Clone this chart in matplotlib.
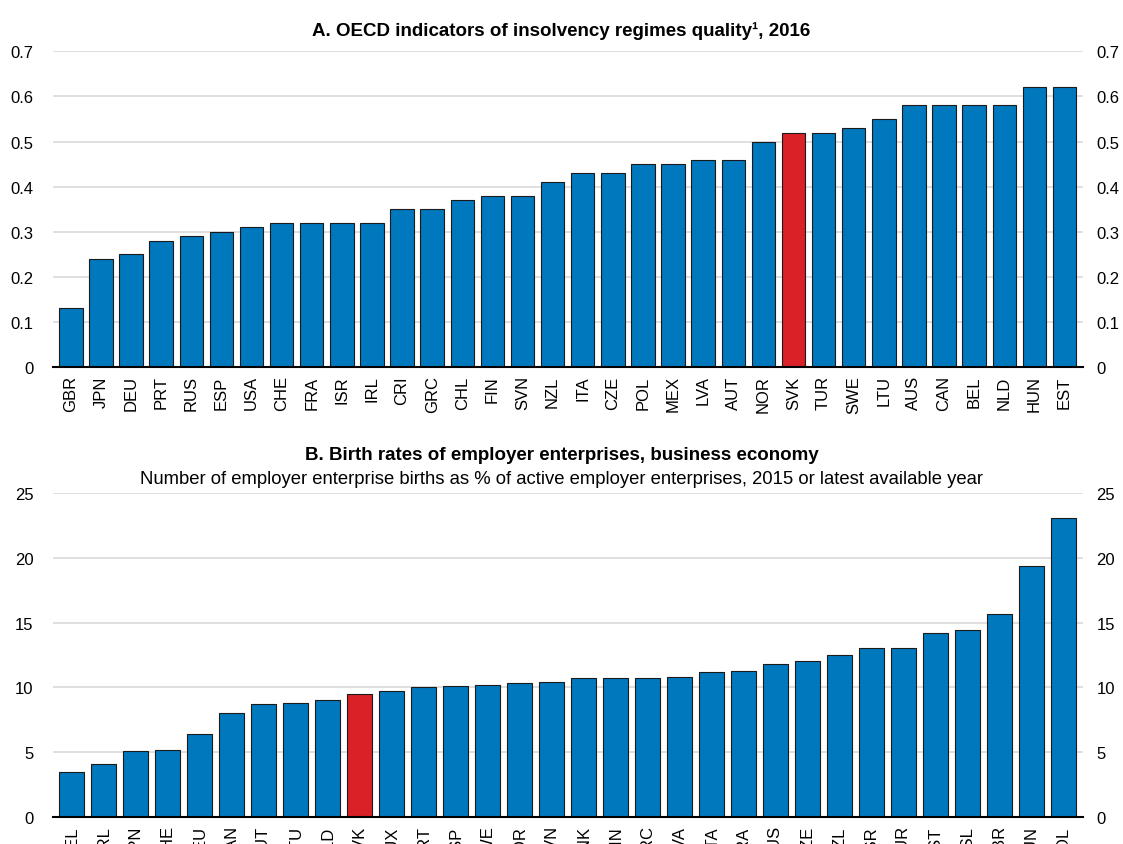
import matplotlib.pyplot as plt

# panel A data
countries_a = ['GBR', 'JPN', 'DEU', 'PRT', 'RUS', 'ESP', 'USA', 'CHE', 'FRA', 'ISR', 'IRL',
               'CRI', 'GRC', 'CHL', 'FIN', 'SVN', 'NZL', 'ITA', 'CZE', 'POL', 'MEX', 'LVA',
               'AUT', 'NOR', 'SVK', 'TUR', 'SWE', 'LTU', 'AUS', 'CAN', 'BEL', 'NLD', 'HUN', 'EST']
values_a = [0.13, 0.24, 0.25, 0.28, 0.29, 0.30, 0.31, 0.32, 0.32, 0.32, 0.32,
            0.35, 0.35, 0.37, 0.38, 0.38, 0.41, 0.43, 0.43, 0.45, 0.45, 0.46,
            0.46, 0.50, 0.52, 0.52, 0.53, 0.55, 0.58, 0.58, 0.58, 0.58, 0.62, 0.62]
ticks_a = [0, 0.1, 0.2, 0.3, 0.4, 0.5, 0.6, 0.7]

# panel B data
countries_b = ['BEL', 'IRL', 'JPN', 'CHE', 'DEU', 'CAN', 'AUT', 'LTU', 'NLD', 'SVK', 'LUX',
               'PRT', 'ESP', 'SWE', 'NOR', 'SVN', 'DNK', 'FIN', 'GRC', 'LVA', 'ITA', 'FRA',
               'AUS', 'CZE', 'NZL', 'ISR', 'TUR', 'EST', 'ISL', 'GBR', 'HUN', 'POL']
values_b = [3.5, 4.1, 5.1, 5.2, 6.4, 8.0, 8.7, 8.8, 9.0, 9.5, 9.7,
            10.0, 10.1, 10.2, 10.3, 10.4, 10.7, 10.7, 10.7, 10.8, 11.2, 11.3,
            11.8, 12.0, 12.5, 13.0, 13.0, 14.2, 14.4, 15.7, 19.4, 23.1]
ticks_b = [0, 5, 10, 15, 20, 25]

highlight = 'SVK'
BLUE = '#0078be'
RED = '#da2128'

plt.rcParams['font.family'] = ['Liberation Sans', 'DejaVu Sans']


def panel(ax, cats, vals, ticks, tick_fmt):
    colors = [RED if c == highlight else BLUE for c in cats]
    x = range(len(cats))
    ax.bar(x, vals, width=0.78, color=colors, edgecolor='#1a1a1a', linewidth=0.8, zorder=3)
    ax.set_xlim(-0.6, len(cats) - 0.4)
    ax.set_ylim(ticks[0], ticks[-1])
    labels = [tick_fmt(t) for t in ticks]
    ax.set_yticks(ticks)
    ax.set_yticklabels(labels, fontsize=12)
    ax.set_xticks(list(x))
    ax.set_xticklabels(cats, rotation=90, fontsize=12)
    ax.tick_params(axis='x', length=0, pad=6)
    ax.tick_params(axis='y', length=0, pad=14)
    ax.grid(axis='y', color='#d9d9d9', linewidth=1.2, zorder=0)
    for s in ['top', 'left', 'right']:
        ax.spines[s].set_visible(False)
    ax.spines['bottom'].set_linewidth(1.5)
    ax.spines['bottom'].set_zorder(4)

    # right-hand labels
    axr = ax.twinx()
    axr.set_ylim(ax.get_ylim())
    axr.set_yticks(ticks)
    axr.set_yticklabels(labels, fontsize=12)
    axr.tick_params(axis='y', length=0, pad=10)
    for s in axr.spines.values():
        s.set_visible(False)


fig = plt.figure(figsize=(11.23, 8.45), dpi=100)
ax1 = fig.add_axes([0.047, 0.5645, 0.917, 0.3735])
ax2 = fig.add_axes([0.047, 0.032, 0.917, 0.3834])

panel(ax1, countries_a, values_a, ticks_a, lambda t: '0' if t == 0 else f'{t:.1f}')
panel(ax2, countries_b, values_b, ticks_b, lambda t: f'{t}')

fig.text(0.5, 0.963, 'A. OECD indicators of insolvency regimes quality\u00b9, 2016',
         ha='center', va='center', fontsize=13.5, fontweight='bold')
fig.text(0.5, 0.461, 'B. Birth rates of employer enterprises, business economy',
         ha='center', va='center', fontsize=13.5, fontweight='bold')
fig.text(0.5, 0.432, 'Number of employer enterprise births as % of active employer enterprises, 2015 or latest available year',
         ha='center', va='center', fontsize=13.3)

fig.savefig('out.png', dpi=100)
